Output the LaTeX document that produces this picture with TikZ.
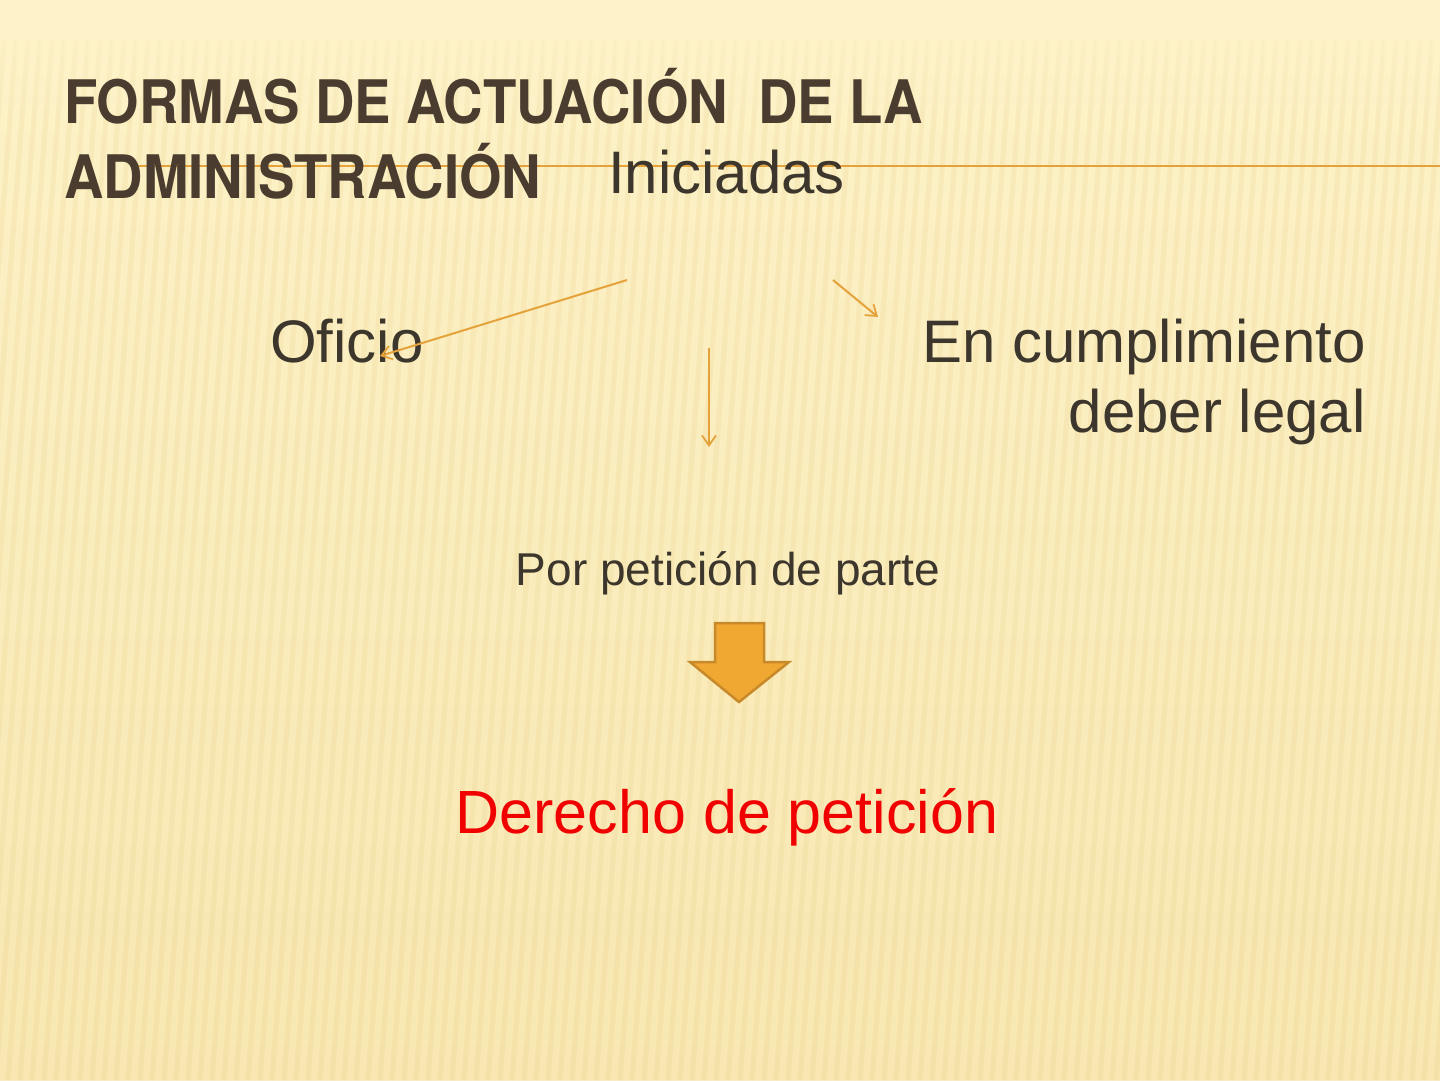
\documentclass[tikz,border=0pt]{standalone}
\usepackage{fontspec}
\setmainfont{Liberation Sans}
\newfontfamily\titlefont[FakeStretch=0.91]{TeX Gyre Heros}
\usetikzlibrary{arrows.meta,fadings}
\tikzfading[name=fadedown, top color=transparent!0, bottom color=transparent!100]
\definecolor{bgA}{HTML}{FDF2C8}
\definecolor{bgB}{HTML}{F6E3A8}
\definecolor{stripe}{HTML}{E6CB80}
\definecolor{titlec}{HTML}{4A3C2E}
\definecolor{bodyc}{HTML}{3D362C}
\definecolor{linec}{HTML}{E6A23A}
\definecolor{blockf}{HTML}{F0A832}
\definecolor{blockd}{HTML}{C8892A}
\definecolor{redc}{HTML}{F00000}
\tikzset{
  thinarrow/.style={draw=linec, line width=2pt, -{Straight Barb[length=10pt,width=14pt,line width=1.8pt]}},
  bodytext/.style={text=bodyc, inner sep=0pt},
  titletext/.style={anchor=base west, text=titlec, inner sep=0pt, font=\titlefont\bfseries\fontsize{60}{68}\selectfont},
}
\begin{document}
\begin{tikzpicture}[x=1pt,y=-1pt]
\useasboundingbox (0,0) rectangle (1440,1080);
% background
\fill[bgA] (0,0) rectangle (1440,1080);
\shade[top color=bgA, bottom color=bgB, opacity=0.7] (0,60) rectangle (1440,1080);
\begin{scope}
\clip (0,40) rectangle (1440,1080);
\foreach \i in {0,...,130} {
  \draw[stripe, line width=5pt, opacity=0.18] ({\i*12-100},1080) -- ({\i*12-20},40);
}
\end{scope}
\fill[bgA, path fading=fadedown] (0,0) rectangle (1440,130);
% title line
\coordinate (lineA) at (137,166);
\coordinate (lineB) at (1440,166);
\draw[linec, line width=2.8pt] (lineA) -- (lineB);
% title
\node[titletext] (t1) at (64,123) {FORMAS DE ACTUACIÓN\ \ DE LA};
\node[titletext] (t2) at (64,198) {ADMINISTRACIÓN};
% texts
\node[bodytext, anchor=base west, font=\fontsize{60}{68}\selectfont] (ini) at (608,193) {Iniciadas};
\node[bodytext, anchor=base west, font=\fontsize{60}{68}\selectfont] (ofi) at (270,362) {Oficio};
\node[bodytext, anchor=base east, font=\fontsize{60}{68}\selectfont] (cum1) at (1366,362) {En cumplimiento};
\node[bodytext, anchor=base east, font=\fontsize{60}{68}\selectfont] (cum2) at (1366,432) {deber legal};
\node[bodytext, anchor=base, font=\fontsize{46}{54}\selectfont] (pet) at (728,585) {Por petición de parte};
\node[text=redc, inner sep=0pt, anchor=base, font=\fontsize{61}{70}\selectfont] (der) at (727,833) {Derecho de petición};
% arrows
\coordinate (a1s) at (627,280); \coordinate (a1e) at (380,356);
\coordinate (a2s) at (709,348); \coordinate (a2e) at (709,447);
\coordinate (a3s) at (833,280); \coordinate (a3e) at (878,317);
\draw[thinarrow] (a1s) -- (a1e);
\draw[thinarrow] (a2s) -- (a2e);
\draw[thinarrow] (a3s) -- (a3e);
% block arrow
\draw[fill=blockf, draw=blockd, line width=2.5pt, line join=miter]
  (715,623) -- (764,623) -- (764,662) -- (789,662) -- (739,702) -- (690,662) -- (715,662) -- cycle;
\end{tikzpicture}
\end{document}
